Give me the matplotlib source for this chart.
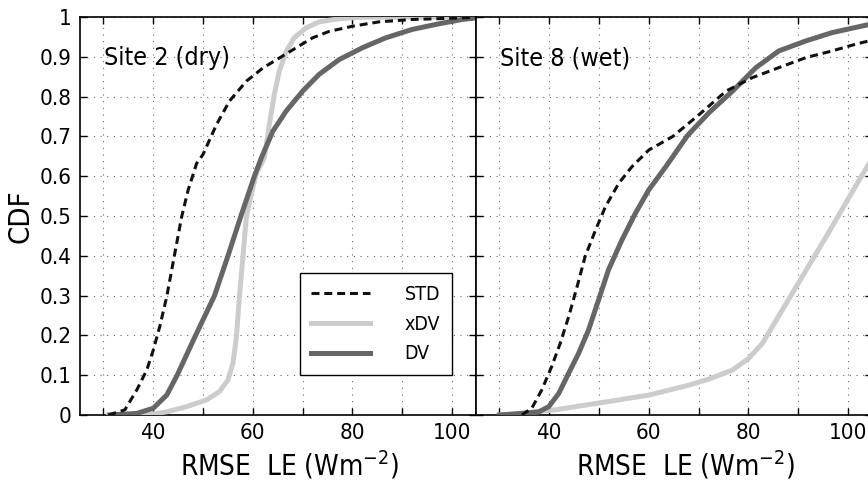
import numpy as np
import matplotlib
matplotlib.use("Agg")
import matplotlib.pyplot as plt
from matplotlib.ticker import FixedLocator

plt.rcParams['font.family'] = ['DejaVu Sans']
plt.rcParams['font.stretch'] = 'condensed'

# Site 2 (dry)
s2_std_x = [31, 34.3, 36.7, 38.7, 40, 41.3, 42.7, 43.7, 44.7, 45.7, 47, 48.7, 50, 52.7, 55.3,
            58.7, 62, 65.3, 68.7, 72, 75.3, 80, 85.3, 92, 102, 105]
s2_std_y = [0, 0.013, 0.063, 0.113, 0.163, 0.222, 0.297, 0.364, 0.431, 0.498, 0.565, 0.632, 0.655, 0.73, 0.789,
            0.839, 0.872, 0.897, 0.923, 0.948, 0.964, 0.977, 0.988, 0.994, 0.998, 1.0]
s2_xdv_x = [31, 38.7, 42.7, 46.7, 50.7, 53.3, 55, 56, 56.7, 57.3, 58, 58.7, 59.7, 60.7, 62.3,
            63.3, 64.3, 65.3, 66.7, 68.3, 70.7, 73.3, 77.3, 82, 105]
s2_xdv_y = [0, 0, 0.008, 0.021, 0.038, 0.059, 0.088, 0.13, 0.197, 0.297, 0.397, 0.498, 0.556, 0.607, 0.646,
            0.73, 0.805, 0.864, 0.914, 0.948, 0.973, 0.988, 0.996, 1.0, 1.0]
s2_dv_x = [31.3, 36.7, 40, 42.7, 44.8, 48.5, 52.3, 55, 57.6, 60.3, 61.7, 64, 66.7, 70, 73.3,
           77.3, 82, 86.7, 92, 97.3, 102, 104.8]
s2_dv_y = [0, 0.004, 0.017, 0.05, 0.1, 0.2, 0.3, 0.4, 0.5, 0.6, 0.646, 0.713, 0.764, 0.814, 0.856,
           0.893, 0.923, 0.948, 0.969, 0.983, 0.994, 0.998]

# Site 8 (wet)
s8_std_x = [34.5, 36.5, 38.5, 40.5, 42.2, 43.9, 45.6, 47.2, 49.3, 51.3, 54, 56.6, 60, 64.8,
            70.1, 75.5, 80.8, 86.1, 91.5, 96.8, 102.1, 106]
s8_std_y = [0, 0.017, 0.063, 0.122, 0.18, 0.247, 0.323, 0.398, 0.465, 0.524, 0.583, 0.624, 0.666, 0.7,
            0.755, 0.814, 0.848, 0.873, 0.898, 0.915, 0.934, 0.945]
s8_xdv_x = [30, 34.5, 41.2, 49.9, 60, 68, 72, 76.8, 80, 82.8, 88.8, 95.6, 102.2, 106]
s8_xdv_y = [0, 0.004, 0.013, 0.03, 0.05, 0.075, 0.09, 0.113, 0.142, 0.18, 0.306, 0.448, 0.59, 0.67]
s8_dv_x = [30, 34.5, 37.9, 39.9, 41.9, 43.9, 45.9, 47.9, 49.9, 51.9, 54.6, 57.3, 60, 63.4,
           67.8, 72.1, 76.8, 81.5, 86.1, 91.5, 96.8, 103.7, 106]
s8_dv_y = [0, 0.004, 0.008, 0.021, 0.054, 0.105, 0.155, 0.214, 0.289, 0.365, 0.44, 0.507, 0.566, 0.624,
           0.703, 0.76, 0.814, 0.873, 0.915, 0.94, 0.961, 0.98, 0.985]

x_major = [40, 60, 80, 100]
x_minor = [30, 50, 70, 90]
y_ticks = [0, 0.1, 0.2, 0.3, 0.4, 0.5, 0.6, 0.7, 0.8, 0.9, 1.0]
y_ticklabels = ["0", "0.1", "0.2", "0.3", "0.4", "0.5", "0.6", "0.7", "0.8", "0.9", "1"]

sites = [
    ("Site 2 (dry)", (s2_std_x, s2_std_y), (s2_xdv_x, s2_xdv_y), (s2_dv_x, s2_dv_y)),
    ("Site 8 (wet)", (s8_std_x, s8_std_y), (s8_xdv_x, s8_xdv_y), (s8_dv_x, s8_dv_y)),
]

fig = plt.figure(figsize=(8.68, 4.8), dpi=100)
ax_l = fig.add_axes([0.0922, 0.1354, 0.4562, 0.829])
ax_r = fig.add_axes([0.5484, 0.1354, 0.4562, 0.829])

for ax, (title, std, xdv, dv) in zip([ax_l, ax_r], sites):
    ax.plot(*xdv, color="#cccccc", lw=3.6, label="xDV", zorder=3, solid_joinstyle="round")
    ax.plot(*dv, color="#666666", lw=3.6, label="DV", zorder=4, solid_joinstyle="round")
    ax.plot(*std, color="#111111", lw=2.2, ls=(0, (2.6, 1.6)), label="STD", zorder=5)

    ax.set_xlim(25.3, 104.8)
    ax.set_ylim(0, 1)
    ax.xaxis.set_major_locator(FixedLocator(x_major))
    ax.xaxis.set_minor_locator(FixedLocator(x_minor))
    ax.yaxis.set_major_locator(FixedLocator(y_ticks))
    ax.grid(True, which="both", color="#666666", ls=(0, (1, 5)), lw=0.8)
    ax.tick_params(which="both", direction="in", top=True, right=True, length=5, width=1)
    ax.tick_params(axis="both", labelsize=16, pad=6)
    for s in ax.spines.values():
        s.set_linewidth(1.2)
    ax.text(0.061, 0.897, title, transform=ax.transAxes, fontsize=18, va="center", ha="left")
    ax.set_xlabel("RMSE  LE (Wm$^{-2}$)", fontsize=20, labelpad=2)
    ax.xaxis.set_label_coords(0.53, -0.085)

ax_l.set_yticklabels(y_ticklabels)
ax_l.set_ylabel("CDF", fontsize=21, labelpad=4)
ax_r.tick_params(axis="y", labelleft=False)

handles, labels = ax_l.get_legend_handles_labels()
order = [2, 0, 1]
leg = ax_l.legend([handles[i] for i in order], [labels[i] for i in order],
                  loc="lower right", bbox_to_anchor=(0.939, 0.1005), borderaxespad=0,
                  fontsize=14, handlelength=3.0, handletextpad=1.8, labelspacing=0.55,
                  borderpad=0.6, fancybox=False, framealpha=1)
leg.get_frame().set_edgecolor("black")
leg.get_frame().set_linewidth(1.0)

fig.savefig("out.png", dpi=100)
